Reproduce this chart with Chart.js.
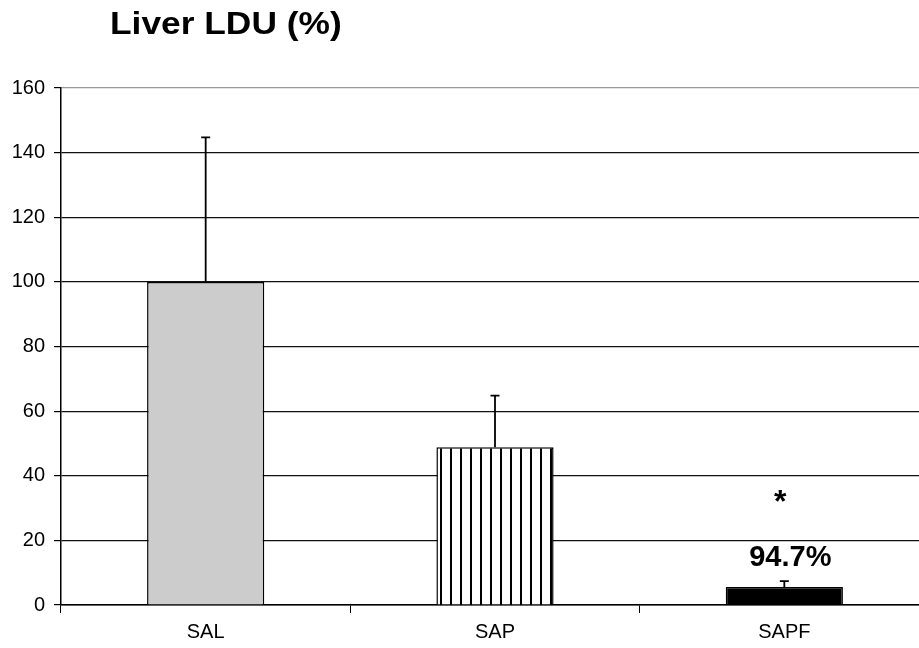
<!DOCTYPE html>
<html lang="en">
<head>
  <meta charset="UTF-8" />
  <title>Liver LDU (%)</title>
  <script src="https://cdn.jsdelivr.net/npm/chart.js"></script>
  <style>
    html, body { margin: 0; padding: 0; background: #fff; overflow: hidden; }
    /* plot runs slightly past the right edge of the picture, as in the figure */
    #wrap { width: 929px; height: 648px; position: relative; }
  </style>
</head>
<body>
  <div id="wrap"><canvas id="ldu"></canvas></div>

  <script>
    // data
    const groups = ['SAL', 'SAP', 'SAPF'];
    const meanLdu = [100, 48.8, 5.6];
    const errTop = [144.7, 64.8, 7.4];
    const yTicks = [0, 20, 40, 60, 80, 100, 120, 140, 160];
    const sigMark = '*';
    const reduction = '94.7%';

    const FONT = '"Liberation Sans", Arial, sans-serif';

    // vertical stripes for SAP
    function stripes() {
      const c = document.createElement('canvas');
      c.width = 10; c.height = 10;
      const g = c.getContext('2d');
      g.fillStyle = '#fff';
      g.fillRect(0, 0, 10, 10);
      g.fillStyle = '#000';
      g.fillRect(0, 0, 2, 10);
      return g.createPattern(c, 'repeat');
    }

    const errorBars = {
      id: 'errorBars',
      afterDatasetsDraw(chart) {
        const ctx = chart.ctx;
        const y = chart.scales.y;
        const meta = chart.getDatasetMeta(0);
        ctx.save();
        ctx.strokeStyle = '#000';
        ctx.lineWidth = 1.8;
        meta.data.forEach((bar, i) => {
          const top = y.getPixelForValue(errTop[i]);
          ctx.beginPath();
          ctx.moveTo(bar.x, bar.y);
          ctx.lineTo(bar.x, top);
          ctx.moveTo(bar.x - 4.5, top);
          ctx.lineTo(bar.x + 4.5, top);
          ctx.stroke();
        });
        // significance labels above SAPF
        const last = meta.data[meta.data.length - 1];
        ctx.fillStyle = '#000';
        ctx.textAlign = 'center';
        ctx.textBaseline = 'middle';
        ctx.font = 'bold 32px ' + FONT;
        ctx.fillText(sigMark, last.x - 4, y.getPixelForValue(31.5));
        ctx.font = 'bold 29px ' + FONT;
        ctx.fillText(reduction, last.x + 6, y.getPixelForValue(14.5));
        ctx.restore();
      }
    };

    const heading = {
      id: 'heading',
      afterDraw(chart) {
        const ctx = chart.ctx;
        ctx.save();
        ctx.fillStyle = '#000';
        ctx.font = 'bold 31px ' + FONT;
        ctx.textBaseline = 'alphabetic';
        ctx.translate(110, 34);
        ctx.scale(1.14, 1);
        ctx.fillText('Liver LDU (%)', 0, 0);
        ctx.restore();
      }
    };

    new Chart(document.getElementById('ldu'), {
      type: 'bar',
      data: {
        labels: groups,
        datasets: [{
          data: meanLdu,
          backgroundColor: ['#cccccc', stripes(), '#000000'],
          borderColor: '#000',
          borderWidth: 1.5,
          categoryPercentage: 1,
          barPercentage: 0.405
        }]
      },
      options: {
        responsive: true,
        maintainAspectRatio: false,
        animation: false,
        layout: { padding: { top: 88, left: 0, right: 0, bottom: 0 } },
        plugins: { legend: { display: false }, tooltip: { enabled: false } },
        scales: {
          x: {
            grid: { drawOnChartArea: false, drawTicks: true, tickLength: 8, color: '#000', offset: true },
            border: { color: '#000', width: 1.5 },
            ticks: { color: '#000', font: { family: FONT, size: 20 }, padding: 7 },
            afterFit(s) { s.height = 43; }
          },
          y: {
            min: 0,
            max: 160,
            afterBuildTicks(s) { s.ticks = yTicks.map(v => ({ value: v })); },
            grid: {
              color: c => (c.tick && c.tick.value === 160 ? '#999' : '#111'),
              tickColor: '#000',
              lineWidth: 1.2,
              tickLength: 7
            },
            border: { color: '#000', width: 1.5 },
            ticks: { color: '#000', font: { family: FONT, size: 20 }, padding: 9 },
            afterFit(s) { s.width = 61; }
          }
        }
      },
      plugins: [errorBars, heading]
    });
  </script>
</body>
</html>
